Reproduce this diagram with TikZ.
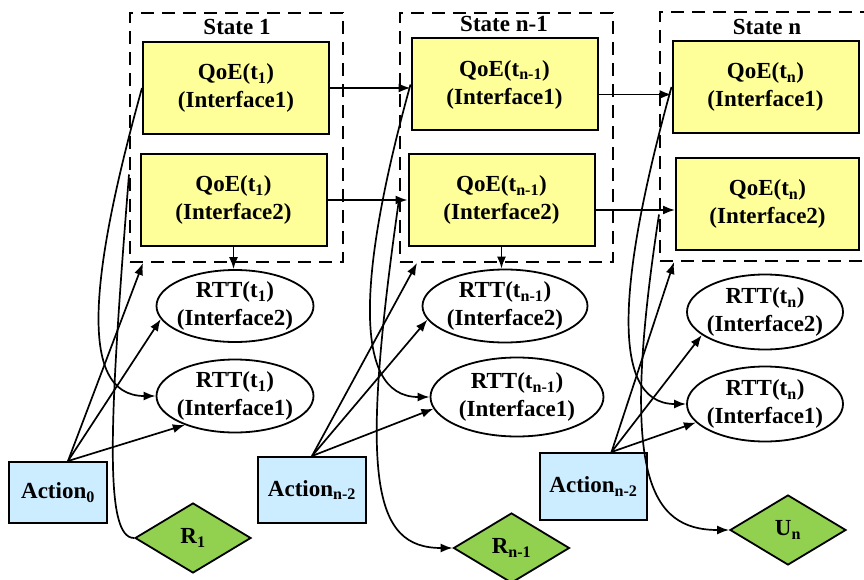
\documentclass[tikz,border=0pt]{standalone}
\usepackage{fontspec}
\setmainfont{Liberation Serif}
\usepackage{xcolor}
\usetikzlibrary{arrows.meta,shapes.geometric}
\definecolor{qoeyellow}{RGB}{255,255,153}
\definecolor{actblue}{RGB}{204,236,255}
\definecolor{rewgreen}{RGB}{146,208,80}

\begin{document}
\begin{tikzpicture}[x=1pt,y=-1pt,
		font=\fontsize{23}{28}\selectfont\bfseries,
		statebox/.style={draw,dash pattern=on 13pt off 8pt,line width=2pt,minimum width=213pt,minimum height=249pt,inner sep=0pt},
		qoe/.style={draw,fill=qoeyellow,line width=2pt,minimum width=186pt,minimum height=92pt,align=center,inner sep=0pt},
		rtt/.style={draw,ellipse,line width=1.8pt,align=center,inner xsep=-12pt,inner ysep=-3pt},
		act/.style={draw,fill=actblue,line width=2pt,inner sep=0pt},
		rew/.style={draw,diamond,fill=rewgreen,line width=1.8pt,inner sep=0pt,minimum width=116pt,minimum height=70pt},
		arr/.style={-{Latex[length=12pt,width=9pt]},line width=1.7pt}]
		\useasboundingbox (0,0) rectangle (864,580);
		\clip (0,0) rectangle (864,580);
		% states
		\node[statebox] (S1) at (236.5,137.5) {};
		\node (T1) at (237,27) {State 1};
		\node[statebox] (S2) at (506.5,137.5) {};
		\node (T2) at (504,24) {State n-1};
		\node[statebox] (S3) at (766.5,136.5) {};
		\node (T3) at (767,27) {State n};
		\node[qoe] (Q11) at (236,88) {QoE(t\textsubscript{1})\\(Interface1)};
		\node[qoe] (Q12) at (233.5,200) {QoE(t\textsubscript{1})\\(Interface2)};
		\node[qoe] (Q21) at (504.5,84.5) {QoE(t\textsubscript{n-1})\\(Interface1)};
		\node[qoe] (Q22) at (501.5,200) {QoE(t\textsubscript{n-1})\\(Interface2)};
		\node[qoe] (Q31) at (765.5,87) {QoE(t\textsubscript{n})\\(Interface1)};
		\node[qoe,minimum width=183pt] (Q32) at (767.5,204) {QoE(t\textsubscript{n})\\(Interface2)};
		% rtt
		\node[rtt,minimum width=157pt,minimum height=72pt] (R12) at (235,306) {RTT(t\textsubscript{1})\\(Interface2)};
		\node[rtt,minimum width=157pt,minimum height=73pt] (R11) at (235,396) {RTT(t\textsubscript{1})\\(Interface1)};
		\node[rtt,minimum width=165pt,minimum height=73pt] (R22) at (505,306) {RTT(t\textsubscript{n-1})\\(Interface2)};
		\node[rtt,minimum width=173pt,minimum height=79pt] (R21) at (517,397) {RTT(t\textsubscript{n-1})\\(Interface1)};
		\node[rtt,minimum width=156pt,minimum height=75pt] (R32) at (765,312) {RTT(t\textsubscript{n})\\(Interface2)};
		\node[rtt,minimum width=156pt,minimum height=75pt] (R31) at (765,404) {RTT(t\textsubscript{n})\\(Interface1)};
		% actions and rewards
		\node[act,minimum width=98pt,minimum height=61pt] (A1) at (58,492.5) {Action\textsubscript{0}};
		\node[act,minimum width=108pt,minimum height=66pt] (A2) at (312,490) {Action\textsubscript{n-2}};
		\node[act,minimum width=107pt,minimum height=67pt] (A3) at (593.5,486.5) {Action\textsubscript{n-2}};
		\node[rew] (D1) at (193,538) {R\textsubscript{1}};
		\node[rew] (D2) at (511.5,548) {R\textsubscript{n-1}};
		\node[rew] (D3) at (788,530) {U\textsubscript{n}};
		\coordinate (a1) at ([xshift=10pt]A1.north);
		\coordinate (a3) at ([xshift=18pt]A3.north);
		\coordinate (c1) at ([yshift=-37pt]S1.west);
		\coordinate (c2) at ([yshift=-62pt]S2.west);
		\coordinate (c3) at ([yshift=-78pt]S3.west);
		% transitions
		\draw[arr] (Q11.east) -- (Q11.east -| Q21.west);
		\draw[arr] (Q12.east) -- (Q12.east -| Q22.west);
		\draw[arr] ([yshift=-10pt]Q21.east) -- ([yshift=-10pt]Q21.east -| Q31.west);
		\draw[arr] ([yshift=-10pt]Q22.east) -- ([yshift=-10pt]Q22.east -| Q32.west);
		\draw[arr] (Q12.south) -- (Q12.south |- R12.north);
		\draw[arr] (Q22.south) -- (Q22.south |- R22.north);
		\draw[arr] (a1) -- ([xshift=14pt]S1.south west);
		\draw[arr] (a1) -- (R12.190);
		\draw[arr] (a1) -- (R11.210);
		\draw[arr] (A2.north) -- ([xshift=18pt]S2.south west);
		\draw[arr] (A2.north) -- (R22.190);
		\draw[arr] (A2.north) -- (R21.188);
		\draw[arr] (a3) -- ([xshift=15pt]S3.south west);
		\draw[arr] (a3) -- (R32.200);
		\draw[arr] (a3) -- (R31.195);
		\draw[arr] (Q11.west) .. controls +(-50,180) and +(-80,0) .. (R11.west);
		\draw[line width=1.7pt] (c1) .. controls +(-20,250) and +(-30,0) .. (D1.west);
		\draw[arr] (Q21.west) .. controls +(-50,180) and +(-80,0) .. (R21.west);
		\draw[arr] (c2) .. controls +(-40,280) and +(-80,0) .. (D2.west);
		\draw[arr] (Q31.west) .. controls +(-50,180) and +(-80,0) .. (R31.west);
		\draw[arr] (c3) .. controls +(-40,260) and +(-80,0) .. (D3.west);
	\end{tikzpicture}
\end{document}
